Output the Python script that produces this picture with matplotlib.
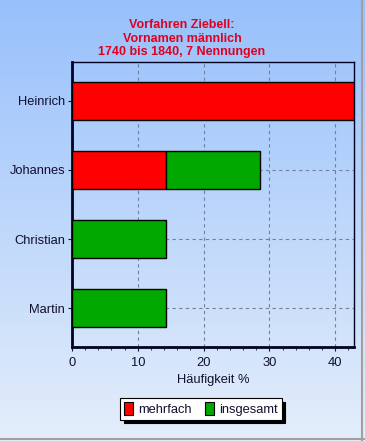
import matplotlib
matplotlib.use("Agg")
import matplotlib.pyplot as plt
import numpy as np
from matplotlib.patches import Patch
from matplotlib.ticker import MultipleLocator

names = ["Heinrich", "Johannes", "Christian", "Martin"]
mehrfach = [42.86, 14.29, 0.0, 0.0]
insgesamt = [0.0, 14.29, 14.29, 14.29]
title_lines = ["Vorfahren Ziebell:", "Vornamen männlich", "1740 bis 1840, 7 Nennungen"]
xlabel = "Häufigkeit %"
series_names = ["mehrfach", "insgesamt"]
colors = ["#ff0000", "#00a800"]

plt.rcParams["font.family"] = ["Liberation Sans", "DejaVu Sans"]
txt = "#101030"
fs = 9.3

fig = plt.figure(figsize=(3.65, 4.41), dpi=100)

# gradient background
bg = fig.add_axes([0, 0, 1, 1], zorder=-10)
top = np.array([152, 192, 252]) / 255
bot = np.array([228, 238, 250]) / 255
t = np.linspace(0, 1, 256)[:, None]
grad = top[None, :] * (1 - t) + bot[None, :] * t
bg.imshow(grad[:, None, :].repeat(2, axis=1), aspect="auto", extent=[0, 1, 0, 1])
bg.plot([0.992, 0.992], [0, 1], color="#a0a0a0", lw=1.5, transform=bg.transAxes)
bg.plot([0, 1], [0.005, 0.005], color="#a0a0a0", lw=1.5, transform=bg.transAxes)
bg.set_xlim(0, 1); bg.set_ylim(0, 1)
bg.axis("off")

ax = fig.add_axes([72 / 365, 94 / 441, 282 / 365, 285 / 441])
ax.set_facecolor("none")
y = np.arange(len(names))
h = 0.56
for i in range(len(names)):
    if mehrfach[i] > 0:
        ax.barh(y[i], mehrfach[i], height=h, color=colors[0], edgecolor="black", lw=1, zorder=3)
    if insgesamt[i] > 0:
        ax.barh(y[i], insgesamt[i], left=mehrfach[i], height=h, color=colors[1], edgecolor="black", lw=1, zorder=3)

ax.set_xlim(0, 42.86)
ax.set_ylim(3.565, -0.565)
ax.set_yticks(y)
ax.set_yticklabels(names)
ax.set_xticks([0, 10, 20, 30, 40])
ax.xaxis.set_minor_locator(MultipleLocator(2))
ax.grid(True, which="major", color="#7080a0", ls=(0, (3, 3)), lw=0.8, zorder=0)
ax.set_axisbelow(True)
ax.tick_params(axis="both", which="major", labelsize=fs, colors=txt, length=3, width=0.8, pad=2)
ax.tick_params(axis="x", which="major", pad=4)
ax.tick_params(axis="x", which="minor", length=2, width=0.6, colors=txt)
for s in ["left", "bottom"]:
    ax.spines[s].set_linewidth(2)
for s in ["top", "right"]:
    ax.spines[s].set_linewidth(1)
for s in ax.spines.values():
    s.set_color("#000020")
ax.set_xlabel(xlabel, fontsize=fs, color=txt, labelpad=4)

for k, line in enumerate(title_lines):
    fig.text(182 / 365, 1 - (25 + 13.5 * k) / 441, line, ha="center", va="center",
             fontsize=9.0, fontweight="bold", color="#e00020")

handles = [Patch(facecolor=c, edgecolor="black", lw=0.8) for c in colors]
leg = fig.legend(handles, series_names, loc="center", bbox_to_anchor=(201 / 365, 1 - 409 / 441),
                 ncol=2, frameon=True, fancybox=False, shadow={"color": "black", "alpha": 1, "ox": 2.5, "oy": -2.5},
                 fontsize=fs, handlelength=0.7, handleheight=1.1, handletextpad=0.4, columnspacing=1.0,
                 borderpad=0.3, borderaxespad=0)
leg.get_frame().set_edgecolor("black")
leg.get_frame().set_linewidth(0.8)
leg.get_frame().set_facecolor("white")
for tx in leg.get_texts():
    tx.set_color(txt)

fig.savefig("out.png", dpi=100)
